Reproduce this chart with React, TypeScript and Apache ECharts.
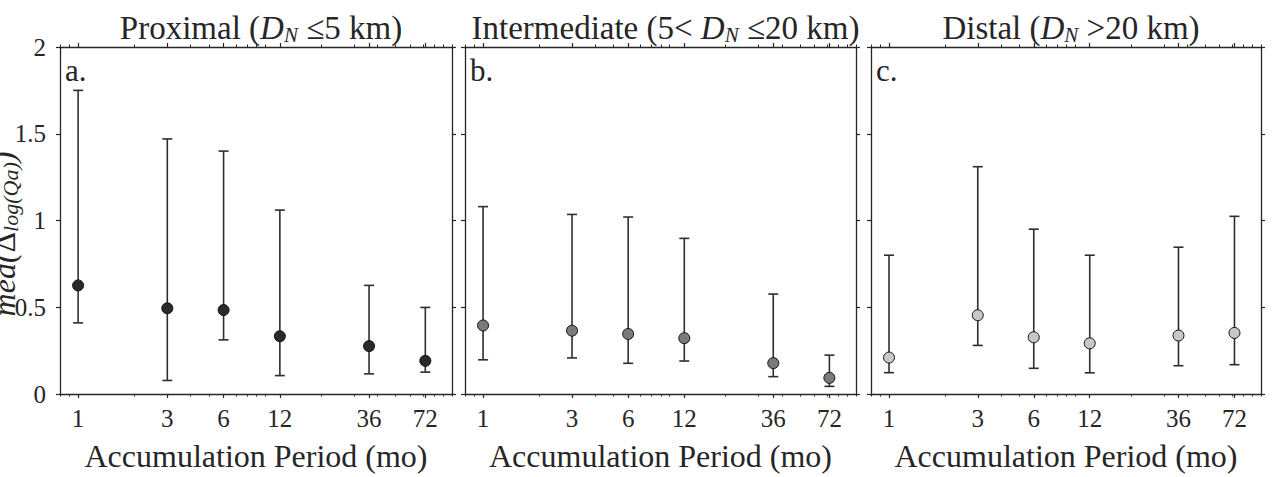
import React, { useEffect, useRef } from "react";
import * as echarts from "echarts";

// ---------- data ----------
const periods = [1, 3, 6, 12, 36, 72];
const tickLabelPeriods = [1, 3, 6, 12, 36, 72];
const minorTickPeriods = [0.8, 0.9, 2, 4, 5, 7, 8, 9, 10, 20, 30, 40, 50, 60, 70, 80, 90, 100];
const xMinPeriod = 0.8;
const xMaxPeriod = 100;
const yTicks = [0, 0.5, 1, 1.5, 2];

const proximalMed = [0.626, 0.494, 0.484, 0.333, 0.276, 0.191];
const proximalLow = [0.41, 0.078, 0.312, 0.106, 0.116, 0.126];
const proximalHigh = [1.75, 1.47, 1.4, 1.06, 0.626, 0.499];

const intermediateMed = [0.395, 0.365, 0.346, 0.322, 0.178, 0.093];
const intermediateLow = [0.197, 0.208, 0.177, 0.19, 0.1, 0.044];
const intermediateHigh = [1.08, 1.035, 1.02, 0.897, 0.576, 0.224];

const distalMed = [0.21, 0.454, 0.327, 0.292, 0.337, 0.352];
const distalLow = [0.123, 0.28, 0.148, 0.122, 0.163, 0.169];
const distalHigh = [0.8, 1.31, 0.95, 0.8, 0.846, 1.024];

const panelLetters = ["a.", "b.", "c."];
const xAxisTitle = "Accumulation Period (mo)";

// ---------- styling ----------
const FONT = "Liberation Serif";
const INK = "#262626";
const panels = [
  { left: 60, width: 392, med: proximalMed, low: proximalLow, high: proximalHigh, fill: "#2a2a2a",
    title: "Proximal ({i|D}{s|N} ≤5 km)" },
  { left: 465, width: 391, med: intermediateMed, low: intermediateLow, high: intermediateHigh, fill: "#7a7a7a",
    title: "Intermediate (5< {i|D}{s|N} ≤20 km)" },
  { left: 871, width: 390, med: distalMed, low: distalLow, high: distalHigh, fill: "#c8c8c8",
    title: "Distal ({i|D}{s|N} >20 km)" },
];
const GRID_TOP = 47;
const GRID_HEIGHT = 353;

const lg = (v: number) => Math.log10(v);

export default function App() {
  const ref = useRef<HTMLDivElement>(null);

  useEffect(() => {
    if (!ref.current) return;
    const chart = echarts.init(ref.current, undefined, { renderer: "svg" });

    const titleRich = {
      i: { fontFamily: FONT, fontSize: 33, fontStyle: "italic", color: INK, lineHeight: 38 },
      s: { fontFamily: FONT, fontSize: 21, fontStyle: "italic", color: INK, lineHeight: 21, verticalAlign: "bottom", padding: [0, 0, 2, 0] },
    };

    const grids: any[] = [];
    const xAxes: any[] = [];
    const yAxes: any[] = [];
    const series: any[] = [];
    const titles: any[] = [];
    const graphics: any[] = [];

    panels.forEach((p, k) => {
      grids.push({ left: p.left, top: GRID_TOP, width: p.width, height: GRID_HEIGHT, containLabel: false });
      const xBase = {
        gridIndex: k,
        type: "value",
        min: lg(xMinPeriod),
        max: lg(xMaxPeriod),
        splitLine: { show: false },
      };
      xAxes.push({
        ...xBase,
        position: "bottom",
        axisLine: { show: true, onZero: false, lineStyle: { color: INK, width: 1.3 } },
        axisTick: { show: true, inside: false, length: 4, customValues: tickLabelPeriods.map(lg), lineStyle: { color: INK, width: 1.2 } },
        axisLabel: {
          show: true,
          customValues: tickLabelPeriods.map(lg),
          formatter: (v: number) => String(Math.round(Math.pow(10, v))),
          fontFamily: FONT,
          fontSize: 25,
          color: INK,
          margin: 12,
        },
        name: xAxisTitle,
        nameLocation: "middle",
        nameGap: 46,
        nameTextStyle: { fontFamily: FONT, fontSize: 32, color: INK },
      });
      xAxes.push({
        ...xBase,
        position: "bottom",
        axisLine: { show: false, onZero: false },
        axisTick: { show: true, inside: false, length: 2.5, customValues: minorTickPeriods.map(lg), lineStyle: { color: INK, width: 1 } },
        axisLabel: { show: false },
      });
      xAxes.push({
        ...xBase,
        position: "top",
        axisLine: { show: true, onZero: false, lineStyle: { color: INK, width: 1.3 } },
        axisTick: { show: true, inside: false, length: 4, customValues: tickLabelPeriods.map(lg), lineStyle: { color: INK, width: 1.2 } },
        axisLabel: { show: false },
      });
      xAxes.push({
        ...xBase,
        position: "top",
        axisLine: { show: false, onZero: false },
        axisTick: { show: true, inside: false, length: 2.5, customValues: minorTickPeriods.map(lg), lineStyle: { color: INK, width: 1 } },
        axisLabel: { show: false },
      });

      const yBase = {
        gridIndex: k,
        type: "value",
        min: yTicks[0],
        max: yTicks[yTicks.length - 1],
        interval: 0.5,
        splitLine: { show: false },
      };
      yAxes.push({
        ...yBase,
        position: "left",
        axisLine: { show: true, onZero: false, lineStyle: { color: INK, width: 1.3 } },
        axisTick: { show: true, inside: false, length: 4, lineStyle: { color: INK, width: 1.2 } },
        axisLabel: { show: k === 0, fontFamily: FONT, fontSize: 25, color: INK, margin: 14 },
      });
      yAxes.push({
        ...yBase,
        position: "right",
        axisLine: { show: true, onZero: false, lineStyle: { color: INK, width: 1.3 } },
        axisTick: { show: true, inside: false, length: 4, lineStyle: { color: INK, width: 1.2 } },
        axisLabel: { show: false },
      });

      const barData = periods.map((per, i) => [lg(per), p.low[i], p.high[i]]);
      series.push({
        type: "custom",
        xAxisIndex: 4 * k,
        yAxisIndex: 2 * k,
        data: barData,
        encode: { x: 0, y: [1, 2] },
        clip: false,
        z: 2,
        renderItem: (_params: any, api: any) => {
          const x = api.value(0);
          const lo = api.value(1);
          const hi = api.value(2);
          const pHi = api.coord([x, hi]);
          const pLo = api.coord([x, lo]);
          const w = 5;
          const style = { stroke: "#2e2e2e", lineWidth: 1.6 };
          return {
            type: "group",
            children: [
              { type: "line", shape: { x1: pHi[0], y1: pHi[1], x2: pLo[0], y2: pLo[1] }, style },
              { type: "line", shape: { x1: pHi[0] - w, y1: pHi[1], x2: pHi[0] + w, y2: pHi[1] }, style },
              { type: "line", shape: { x1: pLo[0] - w, y1: pLo[1], x2: pLo[0] + w, y2: pLo[1] }, style },
            ],
          };
        },
      });
      series.push({
        type: "scatter",
        xAxisIndex: 4 * k,
        yAxisIndex: 2 * k,
        data: periods.map((per, i) => [lg(per), p.med[i]]),
        symbol: "circle",
        symbolSize: 11,
        itemStyle: { color: p.fill, borderColor: "#111111", borderWidth: 1, opacity: 1 },
        z: 3,
      });

      titles.push({
        text: p.title,
        left: p.left + p.width / 2,
        top: 4,
        textAlign: "center",
        textStyle: { fontFamily: FONT, fontSize: 33, fontWeight: "normal", color: INK, lineHeight: 38, rich: titleRich },
      });

      graphics.push({
        type: "text",
        left: p.left + 5,
        top: 55,
        style: { text: panelLetters[k], fontFamily: FONT, fontSize: 31, fill: INK },
      });
    });

    graphics.push({
      type: "text",
      x: 21,
      y: 234,
      rotation: Math.PI / 2,
      style: {
        text: "{i|med(}{u|Δ}{s|log(Qa)}{i|)}",
        align: "center",
        verticalAlign: "bottom",
        rich: {
          i: { fontFamily: FONT, fontSize: 32, fontStyle: "italic", fill: INK, lineHeight: 34 },
          u: { fontFamily: FONT, fontSize: 32, fill: INK, lineHeight: 34 },
          s: { fontFamily: FONT, fontSize: 22, fontStyle: "italic", fill: INK, lineHeight: 22, verticalAlign: "bottom" },
        },
      },
    });

    chart.setOption({
      animation: false,
      backgroundColor: "#ffffff",
      title: titles,
      grid: grids,
      xAxis: xAxes,
      yAxis: yAxes,
      series,
      graphic: graphics,
    });

    return () => chart.dispose();
  }, []);

  return (
    <div
      ref={ref}
      style={{ position: "fixed", left: 0, top: 0, width: 1285, height: 477, background: "#fff" }}
    />
  );
}
